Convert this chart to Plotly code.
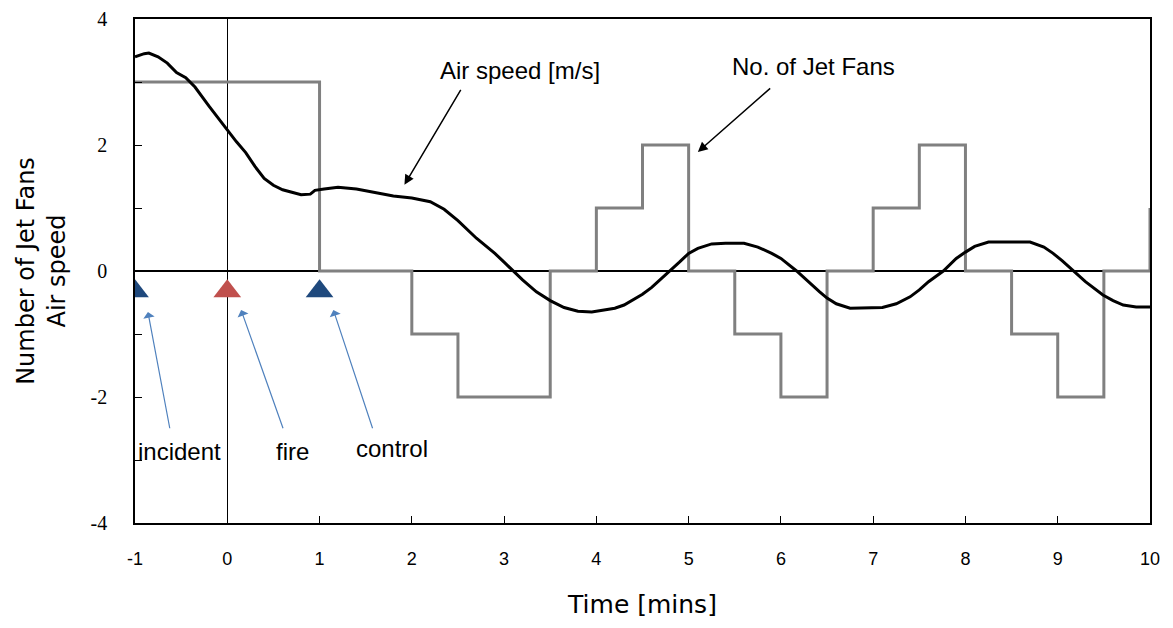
import plotly.graph_objects as go

# Air speed [m/s] vs time [mins]
air_t = [-1.0, -0.9, -0.85, -0.75, -0.65, -0.55, -0.45, -0.35, -0.2, -0.1, 0.0, 0.1, 0.2, 0.3, 0.4,
         0.5, 0.6, 0.7, 0.8, 0.9, 0.95, 1.05, 1.2, 1.4, 1.6, 1.8, 2.0, 2.2, 2.35, 2.5, 2.7, 2.9,
         3.0, 3.1, 3.2, 3.35, 3.5, 3.65, 3.8, 3.95, 4.1, 4.2, 4.3, 4.4, 4.5, 4.6, 4.7, 4.8, 4.9,
         5.0, 5.1, 5.25, 5.4, 5.6, 5.75, 5.9, 6.0, 6.17, 6.3, 6.42, 6.5, 6.6, 6.75, 7.0, 7.1, 7.25,
         7.4, 7.5, 7.6, 7.76, 7.9, 8.0, 8.1, 8.25, 8.7, 8.85, 8.95, 9.05, 9.17, 9.3, 9.49, 9.6,
         9.71, 9.85, 10.0]
air_v = [3.40, 3.45, 3.46, 3.40, 3.30, 3.15, 3.07, 2.92, 2.62, 2.42, 2.24, 2.05, 1.88, 1.66, 1.47,
         1.36, 1.29, 1.25, 1.21, 1.22, 1.28, 1.30, 1.33, 1.30, 1.24, 1.19, 1.16, 1.10, 0.98, 0.80,
         0.52, 0.28,
         0.14, 0.0, -0.14, -0.33, -0.47, -0.58, -0.64, -0.65, -0.62, -0.59, -0.54, -0.46, -0.37,
         -0.26, -0.13, 0.0, 0.14, 0.28, 0.36, 0.43, 0.44, 0.44, 0.38, 0.28, 0.20, 0.0, -0.18,
         -0.33, -0.43, -0.52, -0.59, -0.59, -0.58, -0.52, -0.41, -0.30, -0.17, 0.0, 0.20, 0.30,
         0.39, 0.46, 0.46, 0.38, 0.28, 0.16, 0.0, -0.17, -0.38, -0.47, -0.54, -0.57, -0.57]

# Number of jet fans (step)
fan_t = [-1, 1, 2, 2.5, 3.5, 4, 4.5, 5, 5.5, 6, 6.5, 7, 7.5, 8, 8.5, 9, 9.5, 10]
fan_n = [3, 0, -1, -2, 0, 1, 2, 0, -1, -2, 0, 1, 2, 0, -1, -2, 0, 1]

# Event markers
event_t = [-1, 0, 1]
event_y = [-0.32, -0.32, -0.32]
event_colors = ["#1F497D", "#C0504D", "#1F497D"]
event_labels = ["incident", "fire", "control"]

# Tick labels
x_ticks = [-1, 0, 1, 2, 3, 4, 5, 6, 7, 8, 9, 10]
x_ticklabels = ["-1", "0", "1", "2", "3", "4", "5", "6", "7", "8", "9", "10"]
y_ticks = [-4, -2, 0, 2, 4]
y_ticklabels = ["-4", "-2", "0", "2", "4"]

fig = go.Figure()
fig.add_trace(go.Scatter(x=fan_t, y=fan_n, mode="lines", line=dict(color="#808080", width=3, shape="hv"),
                         name="No. of Jet Fans"))
fig.add_trace(go.Scatter(x=air_t, y=air_v, mode="lines", line=dict(color="black", width=3),
                         name="Air speed [m/s]"))
fig.add_trace(go.Scatter(x=event_t, y=event_y, mode="markers",
                         marker=dict(symbol="triangle-up", size=24, color=event_colors),
                         name="events"))

txt_font = dict(family="Liberation Sans", size=24, color="black")

# black arrows
fig.add_annotation(x=1.92, y=1.37, ax=2.54, ay=2.90, axref="x", ayref="y", text="",
                   showarrow=True, arrowhead=2, arrowsize=1.3, arrowwidth=1.5, arrowcolor="black")
fig.add_annotation(x=3.17, y=3.19, text="Air speed [m/s]", showarrow=False, font=txt_font)
fig.add_annotation(x=5.10, y=1.89, ax=5.90, ay=2.92, axref="x", ayref="y", text="",
                   showarrow=True, arrowhead=2, arrowsize=1.3, arrowwidth=1.5, arrowcolor="black")
fig.add_annotation(x=6.35, y=3.24, text="No. of Jet Fans", showarrow=False, font=txt_font)

# blue event arrows
heads = [(-0.86, -0.65), (0.15, -0.62), (1.15, -0.62)]
tails = [(-0.62, -2.52), (0.61, -2.52), (1.58, -2.52)]
label_pos = [(-0.52, -2.87), (0.71, -2.87), (1.79, -2.81)]
for (hx, hy), (tx, ty), (lx, ly), lab in zip(heads, tails, label_pos, event_labels):
    fig.add_annotation(x=hx, y=hy, ax=tx, ay=ty, axref="x", ayref="y", text="",
                       showarrow=True, arrowhead=1, arrowsize=1.6, arrowwidth=1.2, arrowcolor="#4F81BD")
    fig.add_annotation(x=lx, y=ly, text=lab, showarrow=False, font=txt_font)

fig.update_layout(
    width=1173, height=628,
    margin=dict(l=127, r=31, t=11, b=113),
    paper_bgcolor="white", plot_bgcolor="white",
    showlegend=False,
)
fig.update_xaxes(
    range=[-1, 10], tickvals=x_ticks, ticktext=x_ticklabels, ticks="inside", ticklen=7, tickcolor="black",
    showline=True, linecolor="black", linewidth=1.5, mirror=True, showgrid=False,
    zeroline=True, zerolinecolor="black", zerolinewidth=1,
    tickfont=dict(family="Liberation Sans", size=18, color="black"),
    ticklabelstandoff=19, automargin=False,
    title=dict(text="Time [mins]", font=dict(family="DejaVu Sans", size=25, color="black"), standoff=27),
)
fig.update_yaxes(
    range=[-4, 4], tickvals=y_ticks, ticktext=y_ticklabels, ticks="inside", ticklen=7, tickcolor="black",
    minor=dict(dtick=1, ticks="inside", ticklen=7, tickcolor="black", showgrid=False),
    showline=True, linecolor="black", linewidth=1.5, mirror=True, showgrid=False,
    zeroline=True, zerolinecolor="black", zerolinewidth=1.5,
    tickfont=dict(family="Liberation Serif", size=20, color="black"),
    ticklabelstandoff=22, automargin=False,
    title=dict(text="Number of Jet Fans<br>Air speed", font=dict(family="DejaVu Sans", size=24, color="black"),
               standoff=18),
)

fig.write_html("out.html")
